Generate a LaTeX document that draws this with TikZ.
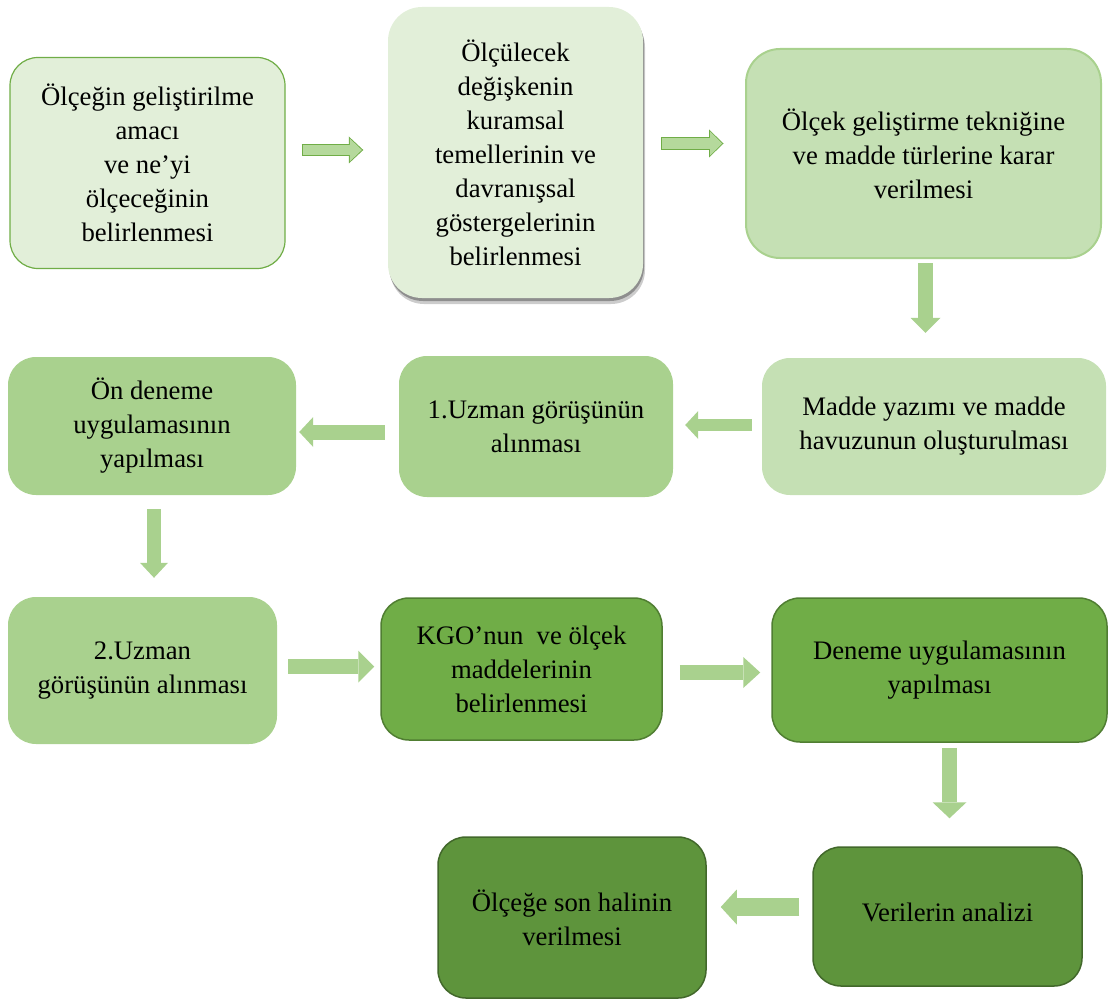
\documentclass[tikz,border=0pt]{standalone}
\usepackage{fontspec}
\setmainfont{Liberation Serif}
\usetikzlibrary{arrows.meta,calc,shadows}

\definecolor{paleGreen}{HTML}{E2EFD9}
\definecolor{softGreen}{HTML}{C5E0B4}
\definecolor{midGreen}{HTML}{A9D18E}
\definecolor{leafGreen}{HTML}{70AD47}
\definecolor{leafEdge}{HTML}{507E32}
\definecolor{darkGreen}{HTML}{5E943C}
\definecolor{darkEdge}{HTML}{42682B}
\definecolor{tipGreen}{HTML}{B5D99C}

\begin{document}
\begin{tikzpicture}[
  x=1pt,y=-1pt,
  stage/.style={rounded corners=28pt,align=center,inner sep=0pt,
    font=\fontsize{26.7}{34}\selectfont},
  flow/.style n args={3}{draw=midGreen,line width=#1,
    -{Triangle[width=#2,length=#3,line width=0pt]}}
]
  \useasboundingbox (0,0) rectangle (1110,1003);

  % first row
  \node[stage,fill=paleGreen,draw=leafGreen,line width=1.2pt,
    minimum width=275pt,minimum height=211pt] (aim) at (147.5,163)
    {Ölçeğin geliştirilme\\amacı\\ve ne’yi\\ölçeceğinin\\belirlenmesi};
  \node[stage,fill=paleGreen,rounded corners=34pt,
    drop shadow={shadow xshift=1pt,shadow yshift=-3pt,fill=black,opacity=.3},
    drop shadow={shadow xshift=2pt,shadow yshift=-6pt,fill=black,opacity=.2},
    minimum width=255pt,minimum height=291pt] (theory) at (515.5,152.5)
    {Ölçülecek\\değişkenin\\kuramsal\\temellerinin ve\\davranışsal\\göstergelerinin\\belirlenmesi};
  \node[stage,fill=softGreen,draw=midGreen,line width=2pt,rounded corners=34pt,
    minimum width=355pt,minimum height=209pt] (technique) at (923.5,153.5)
    {Ölçek geliştirme tekniğine\\ve madde türlerine karar\\verilmesi};

  % second row
  \node[stage,fill=softGreen,minimum width=344pt,minimum height=137pt]
    (pool) at (934,426.5) {Madde yazımı ve madde\\havuzunun oluşturulması};
  \node[stage,fill=midGreen,minimum width=274pt,minimum height=141pt]
    (expert1) at (536,426.5) {1.Uzman görüşünün\\alınması};
  \node[stage,fill=midGreen,minimum width=288pt,minimum height=138pt]
    (pilot) at (152,426) {Ön deneme\\uygulamasının\\yapılması};

  % third row
  \node[stage,fill=midGreen,minimum width=269pt,minimum height=147pt]
    (expert2) at (142.5,670.5) {2.Uzman\\görüşünün alınması};
  \node[stage,fill=leafGreen,draw=leafEdge,line width=1.5pt,
    minimum width=281pt,minimum height=142pt] (items) at (521.5,669)
    {KGO’nun\ \ ve ölçek\\maddelerinin\\belirlenmesi};
  \node[stage,fill=leafGreen,draw=leafEdge,line width=1.5pt,
    minimum width=335pt,minimum height=144pt] (trial) at (939.5,670)
    {Deneme uygulamasının\\yapılması};

  % last row
  \node[stage,fill=darkGreen,draw=darkEdge,line width=1.5pt,
    minimum width=269pt,minimum height=139pt] (analysis) at (947.5,916.5)
    {\raisebox{8pt}{Verilerin analizi}};
  \node[stage,fill=darkGreen,draw=darkEdge,line width=1.5pt,
    minimum width=268pt,minimum height=161pt] (final) at (572,917.5)
    {Ölçeğe son halinin\\verilmesi};

  % block arrows
  \draw[flow={10pt}{23pt}{12pt},draw=tipGreen,shorten <=17pt,shorten >=26pt,
    preaction={draw=leafGreen,line width=12pt,shorten <=16pt,shorten >=24.5pt,
      -{Triangle[width=27pt,length=14.5pt,line width=0pt]}}]
    ($(aim.east |- theory.west)+(0,-2.5)$) -- ($(theory.west)+(0,-2.5)$);
  \draw[flow={11pt}{24pt}{12pt},draw=tipGreen,shorten <=19pt,shorten >=23pt,
    preaction={draw=leafGreen,line width=13pt,shorten <=18pt,shorten >=21.5pt,
      -{Triangle[width=28pt,length=14.5pt,line width=0pt]}}]
    ($(theory.east)+(0,-9)$) -- ($(technique.west |- theory.east)+(0,-9)$);
  \draw[flow={15pt}{30pt}{15pt},shorten <=4pt,shorten >=25pt]
    ($(technique.south)+(2,0)$) -- ($(technique.south |- pool.north)+(2,0)$);
  \draw[flow={12pt}{28pt}{13pt},shorten <=10pt,shorten >=12pt]
    ($(pool.west)+(0,-1.5)$) -- ($(expert1.east)+(0,-1.5)$);
  \draw[flow={15pt}{30pt}{14pt},shorten <=14pt,shorten >=3pt]
    ($(expert1.west)+(0,5.5)$) -- ($(pilot.east |- expert1.west)+(0,5.5)$);
  \draw[flow={14pt}{28pt}{15pt},shorten <=14pt,shorten >=19pt]
    ($(pilot.south)+(2,0)$) -- ($(pilot.south |- expert2.north)+(2,0)$);
  \draw[flow={15pt}{32pt}{16pt},shorten <=11pt,shorten >=6pt]
    ($(expert2.east)+(0,-4)$) -- ($(items.west |- expert2.east)+(0,-4)$);
  \draw[flow={15pt}{31pt}{17pt},shorten <=17pt,shorten >=11pt]
    ($(items.east)+(0,3.5)$) -- ($(trial.west |- items.east)+(0,3.5)$);
  \draw[flow={15pt}{34pt}{16pt},shorten <=5pt,shorten >=28pt]
    ($(analysis.north |- trial.south)+(2,0)$) -- ($(analysis.north)+(2,0)$);
  \draw[flow={18pt}{35pt}{16pt},shorten <=13pt,shorten >=14pt]
    ($(analysis.west)+(0,-9.5)$) -- ($(final.east |- analysis.west)+(0,-9.5)$);
\end{tikzpicture}
\end{document}
